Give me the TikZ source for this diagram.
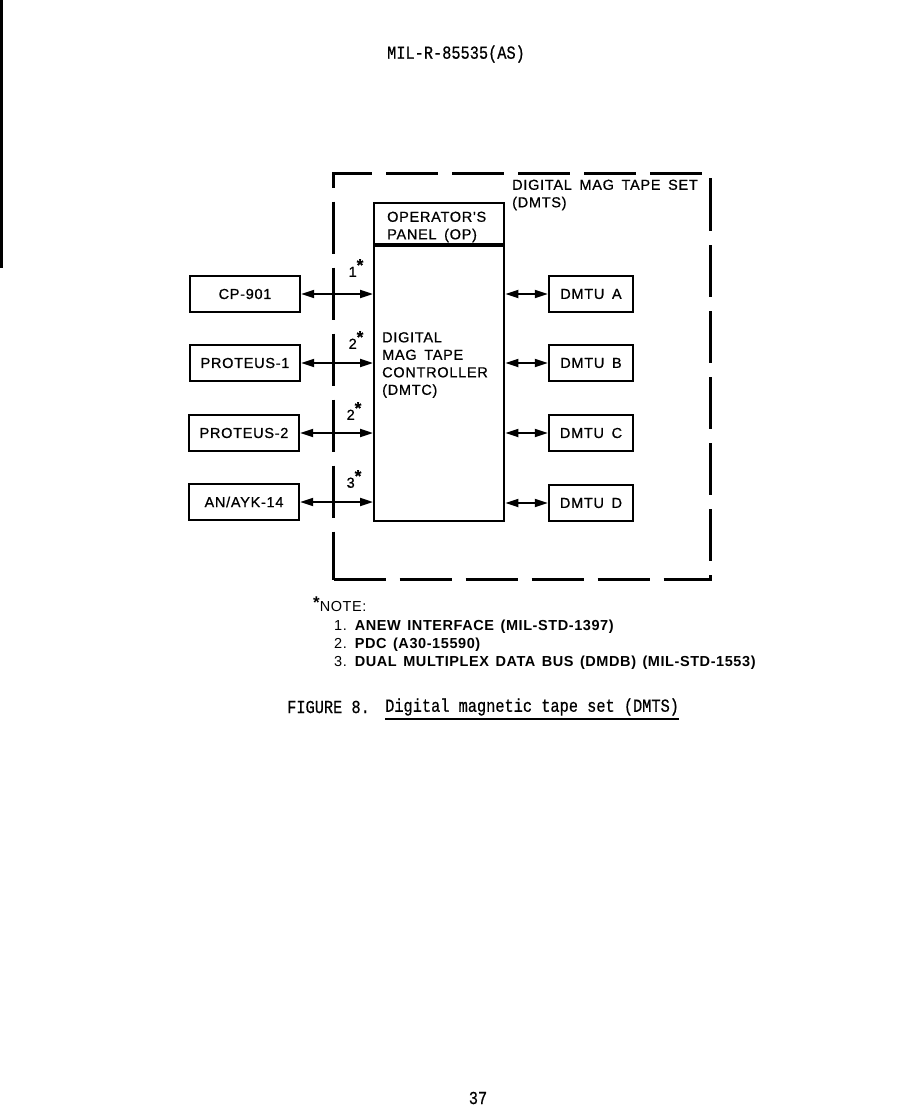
\documentclass[tikz,border=0pt]{standalone}
\usepackage{fontspec}
\usepackage{graphicx}
\setmainfont{Liberation Sans}
\newfontfamily\dfont{Liberation Sans}[LetterSpace=5,WordSpace=1.6,FakeBold=0.8]
\newfontfamily\nbfont{Liberation Sans}[LetterSpace=4,WordSpace=1.4]
\newfontfamily\mfont{Liberation Mono}[FakeBold=0.6]
\usetikzlibrary{arrows.meta}
\tikzset{
  dtext/.style={font=\dfont\fontsize{14.5}{17.5}\selectfont, inner sep=0pt},
  notetext/.style={font=\nbfont\fontsize{14.5}{18}\selectfont, inner sep=0pt, anchor=west},
  mono/.style={font=\mfont\fontsize{15.3}{18}\selectfont, inner sep=0pt},
  lbox/.style={draw, line width=2.4pt, minimum width=110pt, minimum height=36pt, inner sep=0pt, dtext},
  rbox/.style={draw, line width=2.4pt, minimum width=84pt, minimum height=36pt, inner sep=0pt, dtext},
  ctrl/.style={draw, line width=2.4pt, minimum width=130pt, inner sep=0pt},
  biarrow/.style={line width=2pt, {Triangle[length=13pt,width=8pt]}-{Triangle[length=13pt,width=8pt]}},
  frame/.style={draw, line width=3pt, dash pattern=on 52pt off 14pt, minimum width=377pt, minimum height=406pt, inner sep=0pt},
  starlbl/.style={dtext, anchor=center}
}
\newcommand{\st}[1]{#1\raisebox{6pt}{\bfseries\fontsize{17}{17}\selectfont *}}
\begin{document}
\begin{tikzpicture}[x=1pt,y=-1pt]
\useasboundingbox (0,0) rectangle (901,1110);
% page edge line
\draw[line width=3pt] (1.5,0) -- (1.5,268);
% header
\node[mono] (hdr) at (456,54) {\scalebox{1}[1.2]{MIL-R-85535(AS)}};
% dashed set frame
\node[frame, anchor=north west] (dmts) at (332,172) {};
\node[dtext, anchor=west, align=left] (dmtslbl) at (512,195) {DIGITAL MAG TAPE SET\\(DMTS)};
% controller
\node[ctrl, minimum height=275pt, anchor=north west] (dmtc) at (373,245) {};
\node[ctrl, minimum height=41pt, anchor=south west] (op) at (dmtc.north west) {};
\node[dtext, anchor=west, align=left] (oplbl) at (387,227) {OPERATOR'S\\PANEL (OP)};
\node[dtext, anchor=west, align=left] (dmtclbl) at (382,365) {DIGITAL\\MAG TAPE\\CONTROLLER\\(DMTC)};
% external boxes
\node[lbox] (cp) at (245,294) {CP-901};
\node[lbox] (p1) at (245,363) {PROTEUS-1};
\node[lbox] (p2) at (244,433) {PROTEUS-2};
\node[lbox] (an) at (244,502) {AN/AYK-14};
% DMTUs
\node[rbox] (da) at (591,294) {DMTU A};
\node[rbox] (db) at (591,363) {DMTU B};
\node[rbox] (dc) at (591,433) {DMTU C};
\node[rbox] (dd) at (591,503) {DMTU D};
% connectors left
\draw[biarrow] (cp.east) -- (cp.east -| dmtc.west);
\draw[biarrow] (p1.east) -- (p1.east -| dmtc.west);
\draw[biarrow] (p2.east) -- (p2.east -| dmtc.west);
\draw[biarrow] (an.east) -- (an.east -| dmtc.west);
% connectors right
\draw[biarrow] (da.west -| dmtc.east) -- (da.west);
\draw[biarrow] (db.west -| dmtc.east) -- (db.west);
\draw[biarrow] (dc.west -| dmtc.east) -- (dc.west);
\draw[biarrow] (dd.west -| dmtc.east) -- (dd.west);
% interface labels
\node[starlbl] (s1) at (356,268) {\st{1}};
\node[starlbl] (s2) at (356,340) {\st{2}};
\node[starlbl] (s3) at (354,411) {\st{2}};
\node[starlbl] (s4) at (354,479) {\st{3}};
% notes
\node[notetext] (note) at (313,604) {\raisebox{3pt}{\bfseries\fontsize{17}{17}\selectfont *}NOTE:};
\node[notetext] (n1) at (334,627) {1. \bfseries ANEW INTERFACE (MIL-STD-1397)};
\node[notetext] (n2) at (334,645) {2. \bfseries PDC (A30-15590)};
\node[notetext] (n3) at (334,663) {3. \bfseries DUAL MULTIPLEX DATA BUS (DMDB) (MIL-STD-1553)};
% caption
\node[mono, anchor=west] (fig) at (287,707) {\scalebox{1}[1.2]{FIGURE 8.}};
\node[mono, anchor=west] (figt) at (385,707) {\scalebox{1}[1.2]{Digital magnetic tape set (DMTS)}};
\draw[line width=1.1pt] (385,719) -- (figt.east |- 0,719);
% page number
\node[mono] (pg) at (478,1098) {\scalebox{1}[1.2]{37}};
\end{tikzpicture}
\end{document}
